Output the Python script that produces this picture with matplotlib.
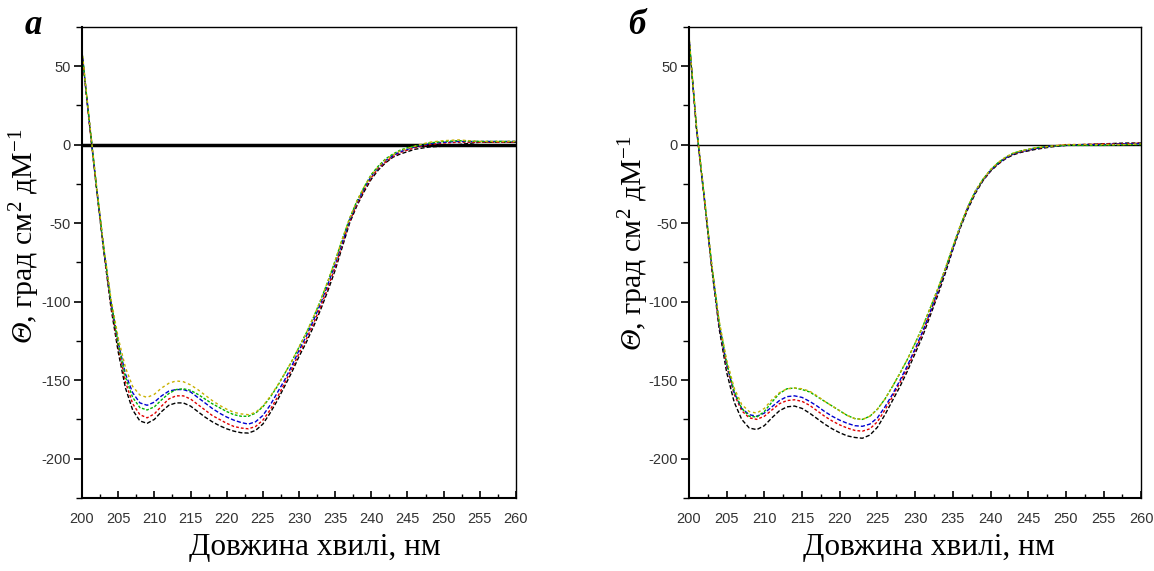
import matplotlib
matplotlib.use("Agg")
import matplotlib.pyplot as plt
from matplotlib.ticker import MultipleLocator

# ============================= DATA =============================
wavelength = [200, 201, 202, 203, 204, 205, 206, 207, 208, 209,
              210, 211, 212, 213, 214, 215, 216, 217, 218, 219,
              220, 221, 222, 223, 224, 225, 226, 227, 228, 229,
              230, 231, 232, 233, 234, 235, 236, 237, 238, 239,
              240, 241, 242, 243, 244, 245, 246, 248, 250, 252,
              255, 258, 260]

# panel a
a_black = [58, 14, -28, -68, -104, -132, -155, -169, -176, -177.5,
           -175, -170, -166, -164.5, -164.5, -166.5, -170, -173.5, -176.5, -179,
           -181, -182.5, -183.5, -183.7, -182, -178, -171, -163, -154, -145,
           -135, -126, -116, -105, -93, -80, -65, -50, -39, -30,
           -22, -16, -11.5, -8, -6, -4.5, -3, -1.5, -1, 0,
           1.5, 1.5, 1.5]
a_red = [58, 14, -28, -67, -102, -129, -151, -165, -172, -174,
         -171.5, -166.5, -162, -160, -160, -162, -165.5, -169, -172.5, -175,
         -177.5, -179.5, -180.5, -181, -179.5, -175.5, -169, -161, -152, -143,
         -133, -124, -114, -103, -91, -78, -63, -49, -38, -29,
         -21, -15, -11, -7.5, -5, -3.5, -2, 0, 1, 1.5,
         1.5, 1.5, 1.5]
a_blue = [59, 15, -27, -66, -100, -126, -146, -158, -164.5, -166,
          -164, -160, -157, -156, -156, -157.5, -161, -164.5, -168, -171,
          -173.5, -175.5, -177, -178, -176.5, -172.5, -166, -158, -150, -141,
          -131, -122, -112, -101, -89, -76, -62, -48, -37, -28,
          -20, -14.5, -10, -7, -4.5, -3, -1.5, 0.5, 1.5, 2,
          2, 2, 2]
a_green = [59, 15, -27, -66, -100, -127, -148, -161, -167.5, -169,
           -167, -162.5, -158.5, -156, -155.5, -156.5, -159, -162, -165, -167.5,
           -170, -172, -173, -173, -171, -167, -161, -154, -146, -138,
           -129, -120, -110, -99, -87, -74, -60, -47, -36, -27,
           -19, -13.5, -9, -6, -3.5, -2, -1, 1, 2, 2.5,
           2, 2, 2]
a_yellow = [60, 16, -26, -65, -98, -123, -142, -154, -159.5, -161,
            -159, -155, -152, -150.5, -151, -153, -156, -159.5, -163, -166,
            -168.5, -170.5, -171.5, -172, -170.5, -166.5, -160.5, -153.5, -146, -138,
            -129, -120, -110, -99, -87, -74, -60, -47, -36, -27,
            -19.5, -14, -9.5, -6.5, -4, -2.5, -1, 1.5, 2.5, 3,
            2, 2, 2]

# panel b
b_black = [68, 10, -33, -78, -117, -145, -164, -175, -180.5, -181.5,
           -179, -174, -169.5, -167, -166.5, -168, -171, -174.5, -178, -181,
           -183.5, -185.5, -186.5, -187, -185, -180, -172, -163, -154, -144,
           -133, -122, -109, -96, -82, -67, -53, -41, -31, -23,
           -17, -12.5, -9, -6.5, -5, -4, -3, -1.5, -0.5, 0,
           0.5, 1, 1]
b_red = [68, 10, -33, -77, -115, -141, -159, -169.5, -174, -175,
         -173, -169, -165, -163, -162.5, -163.5, -166, -169.5, -173, -176,
         -178.5, -180.5, -182, -182.5, -181, -176.5, -169, -160.5, -151.5, -142,
         -131, -120, -107, -94, -80, -66, -52, -40, -30, -22.5,
         -16.5, -12, -8.5, -6, -4.5, -3.5, -2.5, -1, 0, 0,
         0.5, 0.5, 1]
b_blue = [69, 11, -32, -76, -114, -140, -158, -168, -172, -173,
          -171, -167, -163, -160.5, -160, -161, -163.5, -166.5, -170, -173,
          -175.5, -177.5, -179, -179.4, -178, -174, -167, -159, -150, -140.5,
          -130, -119, -106.5, -93.5, -80, -66, -52, -40, -30, -22.5,
          -16.5, -12, -8.5, -6, -4.5, -3.5, -2.5, -1, -0.5, 0,
          0, 0.5, 0.5]
b_green = [69, 11, -32, -76, -113, -139, -157, -168, -173, -173.5,
           -170, -164, -158.5, -155.5, -155, -156, -157.5, -160.5, -163.5, -166.5,
           -169.5, -172.5, -174.5, -175, -173, -168.5, -162, -154, -145.5, -136.5,
           -126.5, -116, -104, -92, -79, -65, -51.5, -39.5, -29.5, -22,
           -16, -11.5, -8, -5.5, -4, -3, -2, -1, -0.5, -0.5,
           -0.5, 0, 0]
b_yellow = [70, 12, -31, -75, -112, -137, -155, -165.5, -170, -171,
            -168, -162.5, -158, -155.5, -155, -155.5, -157, -160, -163.5, -166.5,
            -169.5, -172.5, -174.5, -175, -173, -168.5, -162, -154, -145.5, -136.5,
            -126.5, -116, -104, -92, -79, -65, -51.5, -39.5, -29.5, -22,
            -16, -11.5, -8, -5.5, -4, -3, -2, -1, 0, 0,
            0, 0, 0.5]

panel_letters = ["а", "б"]
x_ticks = [200, 205, 210, 215, 220, 225, 230, 235, 240, 245, 250, 255, 260]
y_ticks = [50, 0, -50, -100, -150, -200]
x_label = "Довжина хвилі, нм"
# sf slot is mapped to the italic serif below, so the capital theta comes out slanted
y_label = r"$\mathsf{Θ}$, град см$^2$ дМ$^{-1}$"

# ============================= STYLE =============================
plt.rcParams["font.family"] = ["Liberation Serif", "DejaVu Serif"]
plt.rcParams["mathtext.fontset"] = "custom"
plt.rcParams["mathtext.rm"] = "Liberation Serif"
plt.rcParams["mathtext.it"] = "Liberation Serif:italic"
plt.rcParams["mathtext.sf"] = "Liberation Serif:italic"

colors = ["black", "#e00000", "#0000d0", "#00b400", "#c8b000"]
styles = [(0, (3, 1.5)), (0, (2, 1.5)), (0, (3, 1.5)), (0, (2, 1.2)), (0, (2, 2))]

fig = plt.figure(figsize=(11.54, 5.71), dpi=100)
ax_a = fig.add_axes([0.0711, 0.128, 0.376, 0.825])
ax_b = fig.add_axes([0.597, 0.128, 0.392, 0.825])


def draw_panel(ax, curves, zero_lw):
    ax.axhline(0, color="black", lw=zero_lw, zorder=1)
    for ys, c, ls in zip(curves, colors, styles):
        ax.plot(wavelength, ys, color=c, lw=1.0, linestyle=ls, zorder=2)
    ax.set_xlim(200, 260)
    ax.set_ylim(-225, 75)
    ax.set_xticks(x_ticks)
    ax.set_yticks(y_ticks)
    ax.xaxis.set_minor_locator(MultipleLocator(2.5))
    ax.yaxis.set_minor_locator(MultipleLocator(25))
    tick_font = {"family": ["Liberation Sans Narrow", "DejaVu Sans Condensed", "Liberation Sans"],
                 "size": 10.5}
    ax.set_xticklabels([str(t) for t in x_ticks], fontdict=tick_font, color="#333333")
    ax.set_yticklabels([str(t) for t in y_ticks], fontdict=tick_font, color="#333333")
    ax.tick_params(axis="x", which="major", direction="in", length=5, width=1.2, pad=10)
    ax.tick_params(axis="x", which="minor", direction="in", length=3, width=1)
    ax.tick_params(axis="y", which="major", direction="out", length=6, width=1.2, pad=2)
    ax.tick_params(axis="y", which="minor", direction="out", length=4, width=1)
    for side in ["left", "bottom"]:
        ax.spines[side].set_linewidth(1.5)
    for side in ["top", "right"]:
        ax.spines[side].set_linewidth(1.0)


draw_panel(ax_a, [a_black, a_red, a_blue, a_green, a_yellow], 2.5)
draw_panel(ax_b, [b_black, b_red, b_blue, b_green, b_yellow], 1.0)

# axis titles
fig.text(25 / 1154, 1 - 236 / 571, y_label, rotation=90, ha="center", va="center", fontsize=21.5)
fig.text(634 / 1154, 1 - 243 / 571, y_label, rotation=90, ha="center", va="center", fontsize=21.5)
fig.text(315 / 1154, 1 - 548 / 571, x_label, ha="center", va="center", fontsize=22.5)
fig.text(929 / 1154, 1 - 548 / 571, x_label, ha="center", va="center", fontsize=22.5)

# panel letters
fig.text(33 / 1154, 1 - 26 / 571, panel_letters[0], ha="center", va="center",
         fontsize=25, fontweight="bold", fontstyle="italic")
fig.text(637 / 1154, 1 - 26 / 571, panel_letters[1], ha="center", va="center",
         fontsize=25, fontweight="bold", fontstyle="italic")

fig.savefig("out.png", dpi=100, facecolor="white")
